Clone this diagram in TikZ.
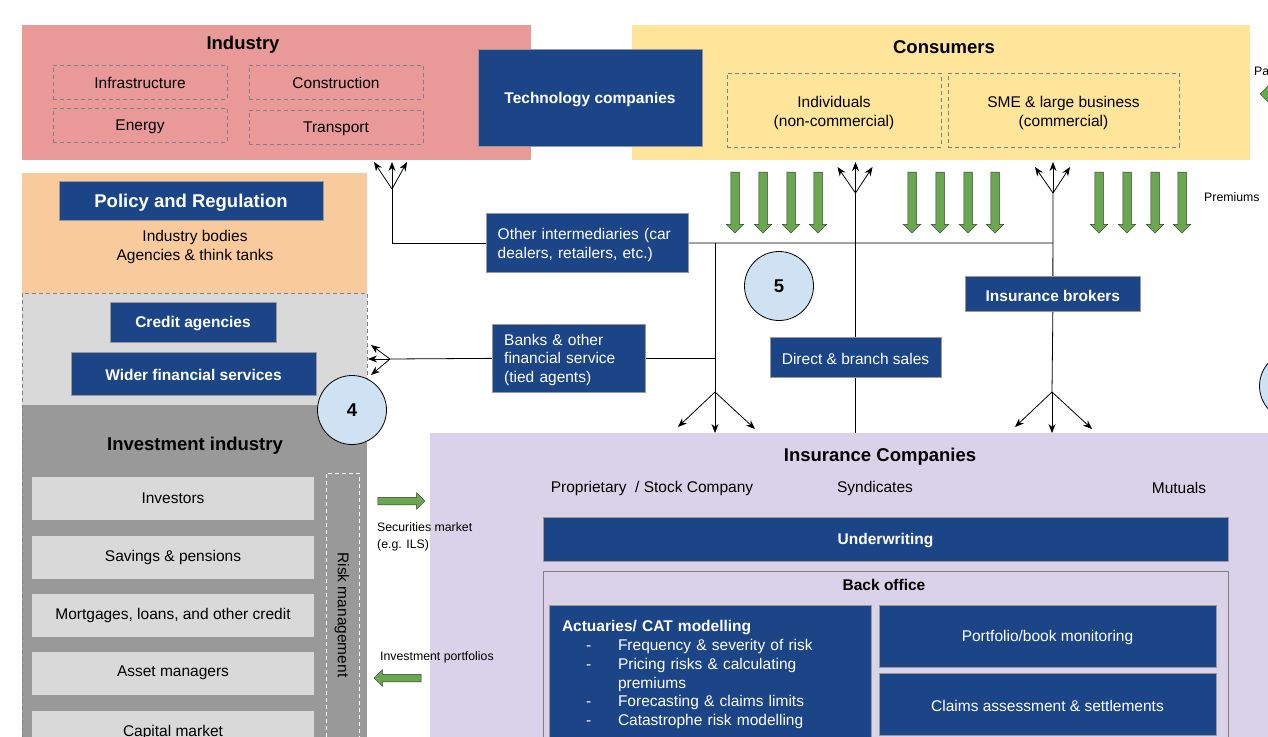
\documentclass[tikz,border=0pt]{standalone}
\usepackage{fontspec}
\setmainfont{Liberation Sans}
\usetikzlibrary{arrows.meta, shapes.arrows, positioning}
\definecolor{indred}{HTML}{EA9999}
\definecolor{consyellow}{HTML}{FFE599}
\definecolor{polorange}{HTML}{F9CB9C}
\definecolor{lgrey}{HTML}{D9D9D9}
\definecolor{mgrey}{HTML}{999999}
\definecolor{inslilac}{HTML}{D9D2E9}
\definecolor{navyblue}{HTML}{1C4587}
\definecolor{bubblebl}{HTML}{CFE2F3}
\definecolor{premgreen}{HTML}{6AA84F}
\newcommand\bodyfs{\fontsize{15.5}{18.8}\selectfont}
\newcommand\titlefs{\fontsize{18.5}{22}\selectfont\bfseries}
\newcommand\notefs{\fontsize{12.3}{17}\selectfont}
\newcommand\actitem[1]{\makebox[56pt][l]{\hspace*{24pt}-}#1}
\pgfdeclarelayer{back}
\pgfdeclarelayer{wires}
\pgfsetlayers{back,wires,main}

\begin{document}
\begin{tikzpicture}[x=1pt,y=-1pt,
  area/.style={anchor=north west, inner sep=0pt, outer sep=0pt},
  dashbox/.style={area, draw=gray, dash pattern=on 4pt off 3pt, font=\bodyfs, align=center},
  tagbox/.style={dashbox, text height=14pt, minimum width=174pt, minimum height=34pt},
  bluebox/.style={area, fill=navyblue, draw=gray!80, line width=0.8pt, text=white, font=\bodyfs\bfseries, align=center, text height=14.5pt},
  itembox/.style={area, fill=lgrey, font=\bodyfs},
  bubble/.style={circle, draw=black, line width=0.8pt, fill=bubblebl, minimum size=69pt, inner sep=0pt, font=\titlefs},
  garrow/.style={single arrow, draw=black!80, line width=0.5pt, fill=premgreen, inner sep=4pt, single arrow head extend=4.5pt, minimum height=61pt},
  flowarrow/.style={garrow, inner sep=3.5pt, minimum height=47pt},
  fan/.style={-{Stealth[length=9pt,width=7pt]}, line width=0.8pt},
  link/.style={line width=0.8pt}]
  \useasboundingbox (0,0) rectangle (1268,736);
  \clip (0,0) rectangle (1268,736);

  \begin{pgfonlayer}{back}
    % coloured areas
    \node[area, fill=indred, minimum width=509pt, minimum height=135pt] (industry) at (22,25) {};
    \node[area, fill=consyellow, minimum width=618pt, minimum height=135pt] (consumers) at (632,25) {};
    \node[area, fill=polorange, minimum width=345pt, minimum height=120pt] (policy) at (22,173) {};
    \node[area, fill=lgrey, minimum width=345pt, minimum height=112pt] (finserv) at (22,293) {};
    \node[area, fill=mgrey, minimum width=345pt, minimum height=340pt] (invest) at (22,405) {};
    \node[area, fill=inslilac, minimum width=860pt, minimum height=320pt] (insco) at (430,433) {};
  \end{pgfonlayer}

  % industry
  \node[font=\titlefs] (industryT) at (243,45) {Industry};
  \node[tagbox] (infra) at (53,65) {Infrastructure};
  \node[tagbox] (constr) at (249,65) {Construction};
  \node[tagbox] (energy) at (53,108) {Energy};
  \node[tagbox] (transp) at (249,110) {Transport};

  % consumers
  \node[font=\titlefs] (consumersT) at (944,47) {Consumers};
  \node[dashbox, text height=36pt, minimum width=214pt, minimum height=74pt] (indiv) at (727,73) {Individuals\\(non-commercial)};
  \node[dashbox, text height=36pt, minimum width=231pt, minimum height=74pt] (sme) at (948,73) {SME \& large business\\(commercial)};
  \node[bluebox, minimum width=224pt, minimum height=97pt] (tech) at (478,49) {Technology companies};
  \node[anchor=west, font=\notefs, inner sep=0pt] (payT) at (1254,71) {Pa};
  \node[flowarrow, shape border rotate=180] (payArr) at (1285.5,94) {};

  % premiums
  \foreach \x [count=\i] in {735,763,791,818,912,940,968,995,1099,1127,1155,1182}
    \node[garrow, shape border rotate=270] (prem\i) at (\x,200.5) {};
  \node[anchor=west, font=\notefs, inner sep=0pt] (premT) at (1204,197) {Premiums};

  % policy, financial services, investment
  \node[bluebox, font=\titlefs, text height=17.5pt, minimum width=264pt, minimum height=39pt] (policyT) at (59,181) {Policy and Regulation};
  \node[font=\bodyfs, align=center] (bodies) at (195,247) {Industry bodies\\Agencies \& think tanks};
  \draw[gray, dash pattern=on 4pt off 3pt] (invest.south west) -- (finserv.north west) -- (finserv.north east) -- (finserv.south east);
  \node[bluebox, minimum width=166pt, minimum height=40pt] (credit) at (110,302) {Credit agencies};
  \node[bluebox, minimum width=245pt, minimum height=43pt] (wider) at (71,352) {Wider financial services};
  \node[font=\titlefs] (investT) at (195,446) {Investment industry};
  \foreach \t/\y [count=\i] in {Investors/477, Savings \& pensions/536, {Mortgages, loans, and other credit}/594, Asset managers/652, Capital market/711}
    \node[itembox, minimum width=282pt, minimum height=42.5pt] (item\i) at (32,\y) {\t};
  \node[area, draw=white, dash pattern=on 4pt off 3pt, minimum width=33pt, minimum height=290pt] (riskbox) at (326,473) {};
  \node[rotate=-90, font=\bodyfs] (riskT) at (342,615) {Risk management};

  % market flows
  \node[flowarrow] (secArr) at (399.5,501) {};
  \node[anchor=west, font=\notefs, align=left, inner sep=0pt] (secT) at (377,536.5) {Securities market\\(e.g. ILS)};
  \node[anchor=west, font=\notefs, inner sep=0pt] (portT) at (380,657) {Investment portfolios};
  \node[flowarrow, shape border rotate=180] (portArr) at (399.5,678) {};

  % insurance companies
  \node[font=\titlefs] (inscoT) at (880,457) {Insurance Companies};
  \node[font=\bodyfs] (propT) at (652,488) {Proprietary\ \ / Stock Company};
  \node[font=\bodyfs] (syndT) at (875,488) {Syndicates};
  \node[font=\bodyfs] (mutT) at (1179,488) {Mutuals};
  \node[bluebox, minimum width=685pt, minimum height=44pt] (underw) at (543,517) {Underwriting};
  \node[area, draw=gray, line width=0.8pt, minimum width=685pt, minimum height=200pt] (backoff) at (543,571) {};
  \node[font=\bodyfs\bfseries] (backT) at (884,585) {Back office};
  \node[bluebox, font=\bodyfs, align=left, text width=296pt, minimum width=322pt, minimum height=136pt] (actuar) at (549,605)
    {{\bfseries Actuaries/ CAT modelling}\\
     \actitem{Frequency \& severity of risk}\\
     \actitem{Pricing risks \& calculating}\\
     \hspace*{56pt}premiums\\
     \actitem{Forecasting \& claims limits}\\
     \actitem{Catastrophe risk modelling}};
  \node[bluebox, font=\bodyfs, minimum width=337pt, minimum height=62pt] (portf) at (879,605) {Portfolio/book monitoring};
  \node[bluebox, font=\bodyfs, minimum width=337pt, minimum height=62pt] (claims) at (879,673) {Claims assessment \& settlements};

  % channels
  \node[bluebox, font=\bodyfs, align=left, inner xsep=11pt, text width=179.6pt, minimum width=201.6pt, minimum height=59.5pt] (otherint) at (486.7,213.3) {Other intermediaries (car\\dealers, retailers, etc.)};
  \node[bluebox, font=\bodyfs, align=left, inner xsep=11.5pt, text width=129.6pt, minimum width=152.6pt, minimum height=68.7pt] (banks) at (492.7,324) {Banks \& other\\financial service\\(tied agents)};
  \node[bluebox, font=\bodyfs, minimum width=171pt, minimum height=40.4pt] (direct) at (770,337.3) {Direct \& branch sales};
  \node[bluebox, minimum width=174.3pt, minimum height=35pt] (brokers) at (965.7,276.7) {Insurance brokers};
  \node[bubble] (four) at (352,410) {4};
  \node[bubble] (five) at (779,286) {5};
  \node[bubble] (six) at (1294,386) {};

  \coordinate (indFan) at (392,189);
  \coordinate (finFan) at (390,359);
  \coordinate (midTop) at (715,243);
  \coordinate (midFan) at (715,392);
  \coordinate (dirFan) at (855.5,193);
  \coordinate (brkTop) at (1053,243);
  \coordinate (brkFan) at (1053,193);
  \coordinate (brkLow) at (1052,392);

  \begin{pgfonlayer}{wires}
    \draw[link] (otherint.west) -| (indFan);
    \draw[link] (otherint.east) -- (brkTop);
    \draw[link] (midTop) -- (midFan);
    \draw[link] (banks.west) -- (finFan);
    \draw[link] (banks.east) -- (banks.east -| midTop);
    \draw[link] (dirFan) -- (direct.north);
    \draw[link] (direct.south) -- (direct.south |- insco.north);
    \draw[link] (brkFan) -- (brokers.north);
    \draw[link] (brokers.south) -- (brkLow);
    % fans
    \foreach \dx/\dy in {-18/-27, 0/-27, 15/-27}
      \draw[fan] (indFan) -- ++(\dx,\dy);
    \foreach \dx/\dy in {-19/-14, -22/0, -19/16}
      \draw[fan] (finFan) -- ++(\dx,\dy);
    \foreach \dx/\dy in {-18/-26, 0/-31, 17/-26} {
      \draw[fan] (dirFan) -- ++(\dx,\dy);
      \draw[fan] (brkFan) -- ++(\dx,\dy);
    }
    \foreach \dx/\dy in {-37/35, 0/41, 40/37} {
      \draw[fan] (midFan) -- ++(\dx,\dy);
      \draw[fan] (brkLow) -- ++(\dx,\dy);
    }
  \end{pgfonlayer}
\end{tikzpicture}
\end{document}
